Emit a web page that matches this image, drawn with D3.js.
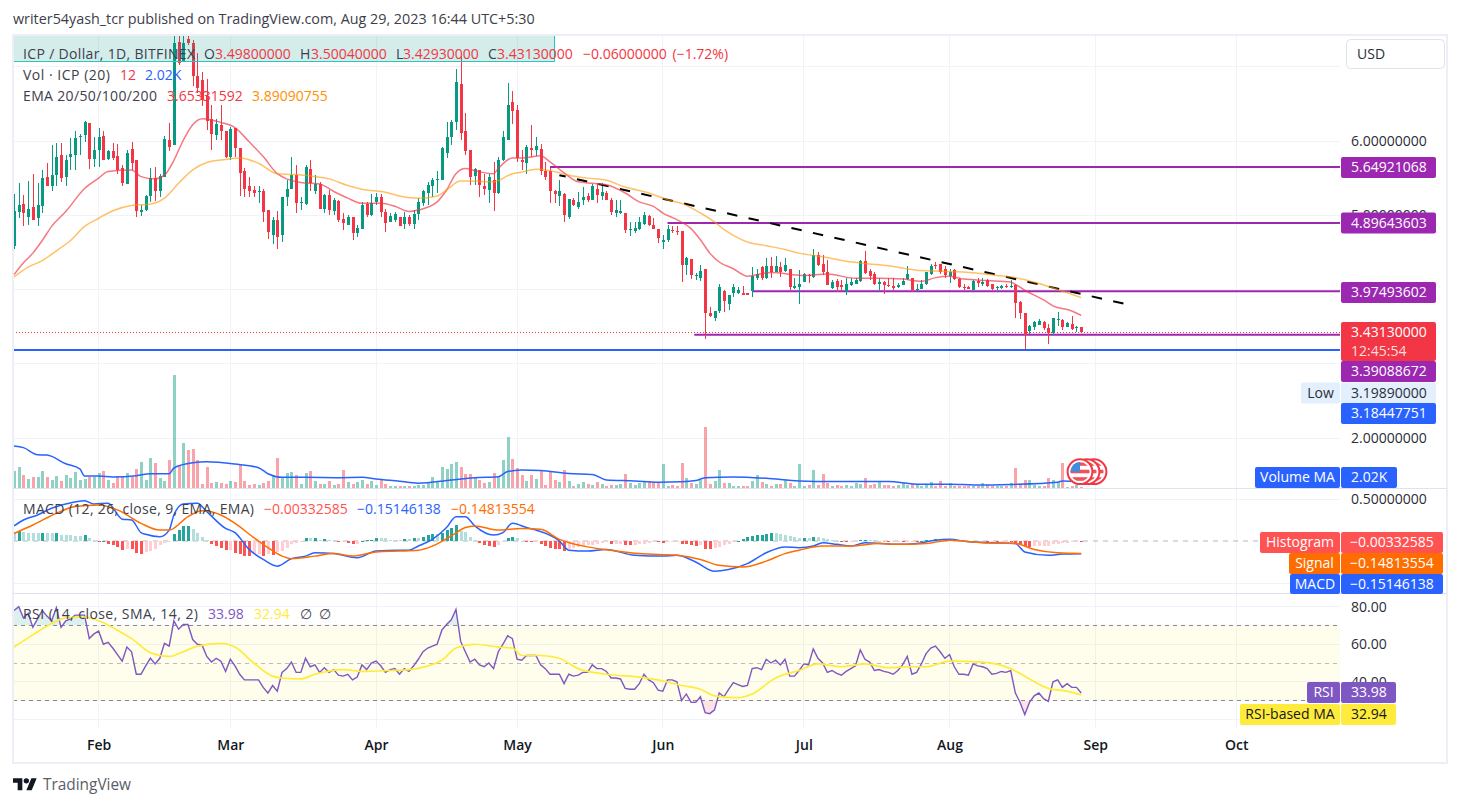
<!DOCTYPE html>
<html>
<head>
<meta charset="utf-8">
<script src="https://cdn.jsdelivr.net/npm/d3@7/dist/d3.min.js"></script>
<style>
html,body{margin:0;padding:0;background:#fff;overflow:hidden}
text{font-family:"Open Sans",sans-serif;font-size:14px}
</style>
</head>
<body>
<div id="canvas"></div>
<script>
// daily candles, index 0 = 14 Jan 2023
var opens=[4.59,5.04,5.15,4.98,5.11,4.96,5.12,5.52,5.40,5.54,5.81,5.51,5.79,5.81,6.06,6.08,6.24,5.76,5.88,6.07,5.76,5.87,5.80,5.64,5.42,5.89,5.74,5.05,5.07,5.26,5.50,5.32,5.52,6.02,5.94,7.33,7.07,7.38,7.32,6.88,6.82,6.60,6.29,6.08,6.22,6.13,5.79,6.18,5.91,5.59,5.39,5.34,5.32,5.33,5.07,4.73,4.94,4.73,5.24,5.35,5.54,5.16,5.15,5.62,5.32,5.42,5.08,5.27,5.06,5.19,4.95,4.87,4.98,4.76,4.82,5.15,5.00,5.18,5.25,5.05,4.91,4.93,4.97,4.88,4.97,4.88,5.02,5.16,5.30,5.39,5.47,5.47,5.84,6.06,6.26,6.77,6.13,5.88,5.53,5.61,5.40,5.34,5.47,5.30,5.74,6.02,6.53,6.42,5.74,5.71,5.91,5.88,5.89,5.60,5.59,5.33,5.26,5.29,4.97,5.21,5.11,5.20,5.26,5.21,5.36,5.26,5.30,5.21,5.03,5.03,5.03,4.80,4.79,4.81,4.88,4.99,4.87,4.82,4.64,4.66,4.80,4.79,4.79,4.33,4.41,4.18,4.15,4.28,3.69,3.61,3.71,3.98,3.80,3.95,3.95,3.95,3.95,3.98,4.15,4.30,4.15,4.32,4.24,4.30,4.25,4.28,4.02,4.04,4.10,4.19,4.17,4.46,4.35,4.24,4.02,4.11,4.06,3.97,4.06,4.08,4.12,4.38,4.25,4.21,4.07,4.10,4.06,4.05,4.04,4.06,4.14,4.16,3.99,4.01,4.07,4.21,4.33,4.34,4.27,4.18,4.26,4.14,4.03,4.04,4.00,4.11,4.08,4.13,4.07,4.02,4.02,4.05,4.03,4.06,3.83,3.68,3.44,3.49,3.52,3.56,3.48,3.41,3.59,3.59,3.50,3.54,3.48,3.498];
var highs=[5.29,5.44,5.27,5.46,5.56,5.44,5.61,5.70,5.95,5.97,5.97,5.81,6.04,6.13,6.10,6.27,6.24,6.06,6.17,6.13,5.88,5.97,5.96,5.68,5.88,5.98,5.74,5.14,5.27,5.63,5.65,5.56,6.07,6.24,7.45,7.45,7.45,7.45,7.36,7.18,6.93,6.84,6.49,6.30,6.49,6.13,6.19,6.18,5.91,5.63,5.52,5.39,5.40,5.36,5.07,4.98,5.06,5.25,5.47,5.79,5.68,5.25,5.68,5.74,5.54,5.45,5.29,5.34,5.23,5.20,5.03,5.00,4.98,4.87,5.18,5.18,5.29,5.30,5.29,5.09,5.03,5.05,4.97,5.05,5.00,5.07,5.23,5.34,5.45,5.50,5.59,5.92,6.26,6.28,6.97,7.14,6.38,5.88,5.63,5.61,5.56,5.56,5.72,5.79,6.13,6.78,6.67,6.49,5.88,5.95,6.22,6.06,5.96,5.72,5.63,5.34,5.47,5.30,5.22,5.23,5.31,5.38,5.30,5.42,5.43,5.43,5.32,5.23,5.21,5.20,5.03,4.91,4.91,4.98,5.05,5.00,4.96,4.82,4.73,4.87,4.85,4.85,4.79,4.44,4.41,4.22,4.33,4.28,3.76,3.71,4.08,3.99,3.93,4.07,4.03,4.05,3.95,4.30,4.27,4.32,4.42,4.44,4.45,4.37,4.42,4.28,4.15,4.26,4.22,4.21,4.54,4.50,4.46,4.40,4.13,4.14,4.13,4.16,4.15,4.16,4.40,4.52,4.28,4.24,4.16,4.11,4.16,4.16,4.09,4.16,4.32,4.16,4.07,4.13,4.24,4.35,4.37,4.35,4.31,4.27,4.27,4.16,4.07,4.05,4.13,4.16,4.16,4.14,4.08,4.05,4.06,4.07,4.13,4.07,3.84,3.69,3.52,3.57,3.60,3.57,3.53,3.62,3.70,3.60,3.56,3.64,3.51,3.5004];
var lows=[4.55,4.96,4.85,4.87,4.93,4.86,5.03,5.39,5.33,5.40,5.45,5.40,5.61,5.61,5.81,5.99,5.62,5.65,5.65,5.74,5.74,5.75,5.56,5.39,5.42,5.61,4.97,4.99,5.06,5.18,5.19,5.25,5.52,5.86,5.94,7.02,7.07,7.29,6.74,6.64,6.47,6.15,5.88,6.01,6.01,5.77,5.74,5.78,5.26,5.24,5.25,5.25,5.17,4.91,4.68,4.61,4.55,4.64,5.12,5.35,5.03,5.07,5.14,5.32,5.29,5.09,5.03,5.00,5.00,4.91,4.80,4.87,4.67,4.71,4.82,4.98,4.99,5.14,4.98,4.78,4.91,4.91,4.85,4.82,4.85,4.82,4.94,5.12,5.14,5.25,5.30,5.47,5.77,5.95,6.15,6.01,5.81,5.41,5.41,5.25,5.27,5.17,5.06,5.29,5.73,6.01,6.23,5.72,5.61,5.56,5.79,5.80,5.54,5.47,5.17,5.17,5.12,4.91,4.95,5.13,5.09,5.14,5.18,5.20,5.16,5.20,5.20,5.00,4.98,5.02,4.76,4.72,4.76,4.80,4.87,4.85,4.82,4.62,4.55,4.64,4.76,4.73,4.10,4.19,4.14,4.13,4.12,3.34,3.63,3.58,3.68,3.70,3.73,3.90,3.94,3.93,3.93,3.90,4.13,4.13,4.14,4.16,4.23,4.17,4.24,3.99,4.01,3.80,4.10,4.09,4.16,4.32,4.20,4.06,4.01,3.97,3.98,3.93,4.05,4.07,4.10,4.21,4.13,4.06,4.00,3.94,4.03,4.00,4.02,4.06,4.13,3.96,3.98,4.01,4.06,4.20,4.27,4.21,4.16,4.09,4.13,4.02,3.99,4.01,3.99,4.03,4.05,4.03,4.00,4.00,4.01,4.02,4.02,3.62,3.60,3.20,3.40,3.45,3.52,3.45,3.27,3.39,3.51,3.46,3.49,3.46,3.43,3.4293];
var closes=[5.06,5.14,5.03,5.09,4.94,5.14,5.50,5.40,5.54,5.79,5.50,5.75,5.83,6.04,6.07,6.25,5.76,5.88,6.05,5.74,5.87,5.77,5.61,5.43,5.84,5.71,5.06,5.07,5.26,5.50,5.33,5.53,6.03,5.92,7.32,7.05,7.32,7.32,6.87,6.72,6.55,6.27,6.09,6.23,6.13,5.78,6.16,5.91,5.57,5.36,5.33,5.30,5.33,5.05,4.77,4.94,4.71,5.25,5.35,5.54,5.16,5.18,5.65,5.44,5.42,5.09,5.27,5.07,5.20,4.94,4.89,4.97,4.76,4.83,5.14,5.00,5.17,5.24,5.05,4.90,4.99,5.02,4.86,4.97,4.88,5.02,5.18,5.32,5.41,5.47,5.49,5.90,6.06,6.26,6.80,6.11,5.87,5.52,5.62,5.41,5.36,5.51,5.30,5.74,6.05,6.49,6.40,5.77,5.72,5.92,5.88,5.93,5.60,5.52,5.33,5.29,5.32,5.00,5.22,5.14,5.18,5.25,5.20,5.39,5.27,5.31,5.20,5.05,5.07,5.06,4.80,4.81,4.83,4.91,5.00,4.87,4.82,4.69,4.67,4.82,4.79,4.78,4.33,4.43,4.20,4.20,4.25,3.68,3.64,3.71,4.04,3.84,3.93,4.03,4.00,3.93,3.93,4.18,4.21,4.16,4.32,4.24,4.31,4.23,4.33,4.04,4.05,4.08,4.21,4.18,4.46,4.33,4.24,4.06,4.10,4.04,4.03,4.07,4.10,4.13,4.39,4.22,4.18,4.07,4.10,4.06,4.05,4.02,4.06,4.11,4.21,3.99,4.01,4.08,4.23,4.32,4.32,4.24,4.20,4.24,4.14,4.03,4.02,4.01,4.11,4.09,4.10,4.05,4.01,4.04,4.05,4.03,4.05,3.82,3.68,3.39,3.51,3.56,3.58,3.48,3.41,3.61,3.60,3.50,3.55,3.47,3.50,3.4313];
// volume in thousands, same days
var volumes=[5.4,6.6,4.1,2.9,3.5,3.5,5.4,3.5,2.6,3.8,2.3,4.1,3.2,5.0,2.6,2.9,3.5,3.5,4.7,5.4,2.6,1.6,3.8,3.8,4.7,3.5,6.0,8.1,2.6,9.4,7.8,3.2,2.3,8.8,35,7.2,14,11.7,12.2,8.8,1.3,6.6,1.6,2.0,1.6,1.3,2.3,2.0,7.2,2.3,0.9,1.3,1.0,1.6,2.3,4.1,9.4,3.5,4.7,5.0,4.1,1.3,4.7,5.4,2.3,1.3,1.3,2.3,1.0,1.3,5.7,2.0,1.3,2.0,2.6,1.3,2.3,1.0,2.6,1.3,0.7,0.7,0.7,0.6,0.6,0.6,0.9,0.9,1.5,3.4,1.9,6.5,5.9,7.4,8.0,6.5,4.3,4.3,3.3,2.5,1.6,1.9,4.6,3.7,8.7,15.8,9.0,6.2,4.0,2.2,4.0,2.8,5.3,0.9,5.3,2.5,1.9,5.6,2.2,0.6,1.2,1.9,1.2,0.9,1.9,1.2,0.6,0.9,0.9,1.2,4.3,1.5,0.9,1.5,1.9,2.2,1.9,1.5,7.4,0.6,0.9,0.6,7.7,3.1,1.5,1.2,2.5,18.9,1.2,2.2,5.6,1.5,1.5,0.6,0.6,0.6,0.6,2.2,4.0,1.9,1.2,0.6,1.2,1.2,2.5,1.5,0.6,7.4,0.6,0.9,5.6,0.9,4.3,1.5,0.6,0.9,0.6,0.9,0.6,1.7,1.3,3.1,0.9,1.2,1.9,0.9,0.9,0.6,0.9,1.5,0.9,1.2,0.9,0.6,1.2,1.9,0.6,2.2,0.6,1.5,0.6,0.6,0.6,0.6,0.6,0.6,1.4,0.9,0.6,0.6,0.6,0.6,1.4,6.2,1.2,2.5,2.5,0.9,0.6,0.6,3.1,2.5,1.9,7.7,0.3,0.6,0.9,0.3];
var volMaDays=[0,2,5,7,11,14,15,18,21,26,29,33,34,38,41,47,52,54,57,62,69,74,77,82,86,93,98,103,105,108,112,118,123,126,132,137,142,145,147,153,160,167,174,186,192,199,205,212,222,223,227];
var volMa=[13,12.5,10.3,10.2,7.5,5.9,3.7,3.7,3.4,3.8,4.4,4.4,6.2,7.8,8.1,7.4,6.3,4.4,3.3,3.3,3.2,3.3,2.8,2.1,1.5,2.5,3.2,3.5,5.1,5.6,5.4,4.5,4.2,2.5,2.2,1.8,1.9,2.3,3.2,3.4,3.0,2.2,2.0,2.0,1.2,1.2,0.9,1.1,1.8,2.2,2.02];
var ema20Days=[0,2,4,6,8,11,15,18,20,25,27,30,32,34,36,38,40,44,47,50,53,56,58,61,65,68,71,74,78,81,84,86,90,92,94,96,98,102,103,106,108,112,114,117,120,123,126,130,133,136,138,141,144,146,148,150,153,156,161,168,173,179,184,189,193,196,199,202,207,212,213,215,219,221,225,227];
var ema20=[4.20,4.36,4.49,4.66,4.85,5.05,5.36,5.50,5.59,5.61,5.52,5.49,5.54,5.74,6.01,6.22,6.30,6.25,6.18,5.99,5.79,5.56,5.49,5.44,5.42,5.32,5.23,5.16,5.16,5.12,5.05,5.07,5.18,5.34,5.56,5.63,5.60,5.56,5.63,5.77,5.77,5.80,5.72,5.57,5.45,5.43,5.41,5.30,5.18,5.12,5.03,4.94,4.82,4.67,4.49,4.37,4.28,4.18,4.23,4.19,4.21,4.15,4.15,4.14,4.11,4.16,4.18,4.14,4.12,4.10,4.07,3.99,3.86,3.78,3.71,3.65];
var ema50Days=[0,3,6,9,12,15,18,21,25,29,32,35,38,41,45,48,52,56,59,63,67,71,74,79,82,86,90,92,95,97,102,106,108,111,114,118,122,126,130,135,139,142,146,149,151,153,156,160,164,167,172,177,181,186,192,196,200,205,209,213,218,222,227];
var ema50=[4.17,4.30,4.39,4.52,4.66,4.85,4.96,5.06,5.13,5.15,5.23,5.43,5.61,5.71,5.75,5.77,5.70,5.56,5.55,5.53,5.49,5.40,5.35,5.31,5.26,5.23,5.26,5.34,5.46,5.46,5.45,5.56,5.58,5.62,5.60,5.54,5.50,5.47,5.38,5.30,5.21,5.16,5.03,4.91,4.81,4.73,4.64,4.59,4.54,4.49,4.44,4.38,4.35,4.32,4.26,4.25,4.24,4.22,4.19,4.16,4.08,4.00,3.89];
// drawings on the price pane
var hLevels=[5.64921068,4.89643603,3.97493602,3.39088672];
var hLevelDays=[114,139,157,144.7];
var supportLevel=3.18447751;
var lastPrice=3.4313;
var trendDays=[116,236];
var trendPrices=[5.54,3.81];
// MACD pane
var macdDays=[0,2,5,8,11,15,17,20,23,25,27,28,31,33,34,36,39,41,45,47,50,53,56,59,62,64,68,73,77,82,84,86,89,92,94,96,98,102,104,106,109,111,116,118,122,126,132,138,141,145,149,152,156,160,164,167,170,172,175,178,181,188,192,196,199,203,213,215,220,223,227];
var macdLine=[0.18,0.25,0.31,0.39,0.44,0.48,0.44,0.45,0.26,0.25,0.10,0.08,0.05,0.13,0.31,0.44,0.45,0.35,0.15,0.10,-0.10,-0.22,-0.30,-0.21,-0.18,-0.14,-0.15,-0.20,-0.12,-0.11,-0.11,-0.06,0.02,0.16,0.29,0.29,0.18,0.07,0.10,0.21,0.16,0.13,0,-0.11,-0.12,-0.10,-0.17,-0.18,-0.17,-0.25,-0.36,-0.34,-0.27,-0.14,-0.07,-0.08,-0.06,-0.02,-0.04,-0.06,-0.02,-0.04,-0.03,0.01,0.02,-0.01,-0.03,-0.13,-0.17,-0.155,-0.151];
var signalDays=[0,4,9,13,18,22,27,31,33,37,40,44,47,51,54,57,59,64,68,72,77,82,86,89,93,96,98,103,108,112,116,122,127,133,141,146,150,155,160,164,167,172,178,184,188,194,199,206,213,217,222,227];
var signalLine=[0.09,0.19,0.33,0.41,0.43,0.37,0.21,0.13,0.13,0.29,0.36,0.31,0.21,0.04,-0.08,-0.18,-0.21,-0.18,-0.15,-0.18,-0.13,-0.12,-0.11,-0.06,0.06,0.16,0.18,0.13,0.15,0.14,0.02,-0.07,-0.11,-0.15,-0.17,-0.22,-0.29,-0.31,-0.24,-0.15,-0.11,-0.06,-0.06,-0.03,-0.04,-0.03,0.01,-0.02,-0.03,-0.10,-0.14,-0.148];
var histogram=[0.11,0.12,0.11,0.10,0.095,0.09,0.10,0.09,0.09,0.10,0.075,0.075,0.07,0.065,0.065,0.07,0.03,0.005,-0.005,0,-0.03,-0.045,-0.07,-0.11,-0.09,-0.10,-0.14,-0.15,-0.13,-0.115,-0.10,-0.05,-0.02,-0.005,0.085,0.135,0.175,0.18,0.145,0.095,0.045,0.01,-0.03,-0.06,-0.085,-0.11,-0.11,-0.14,-0.16,-0.175,-0.18,-0.16,-0.15,-0.18,-0.16,-0.17,-0.13,-0.115,-0.085,-0.03,-0.025,-0.01,0.03,0.03,0.035,0.01,0.02,0.01,0.01,-0.01,-0.01,-0.02,-0.03,-0.03,0.005,0.01,0.012,0.035,0.035,0.03,0.015,0.01,0.01,0.02,0.02,0.03,0.03,0.05,0.07,0.08,0.08,0.10,0.13,0.16,0.185,0.12,0.11,0.05,0.015,-0.025,-0.05,-0.06,-0.07,-0.045,-0.01,0.03,0.05,0.03,0,-0.01,-0.015,-0.015,-0.035,-0.06,-0.08,-0.095,-0.10,-0.12,-0.09,-0.08,-0.07,-0.06,-0.05,-0.045,-0.03,-0.02,-0.01,-0.03,-0.03,-0.03,-0.045,-0.05,-0.045,-0.035,-0.03,-0.02,-0.01,-0.012,-0.025,-0.012,-0.01,-0.008,-0.03,-0.035,-0.05,-0.065,-0.05,-0.095,-0.10,-0.08,-0.07,-0.05,-0.03,-0.012,0.004,0.02,0.045,0.06,0.07,0.075,0.085,0.09,0.09,0.085,0.07,0.06,0.045,0.035,0.04,0.035,0.05,0.05,0.04,0.025,0.012,0.004,-0.004,-0.015,-0.004,-0.004,0.012,0.015,0.012,0.008,0,0,-0.015,-0.015,-0.004,-0.008,-0.008,-0.004,-0.015,0,0.015,0.012,0.028,0.024,0.02,0.015,0.008,0.004,-0.004,-0.008,-0.008,-0.008,-0.004,-0.008,-0.006,-0.015,-0.008,-0.004,-0.006,-0.03,-0.04,-0.055,-0.07,-0.065,-0.062,-0.06,-0.058,-0.04,-0.03,-0.025,-0.02,-0.012,-0.01,-0.015];
// RSI pane
var rsi=[78,80,74,76.5,69,73.5,78,75,72.5,79.5,69,72.5,73.5,75.5,75.5,75.5,63,65.5,67,60,61,58,54.5,51,58.5,56,44,44,48.5,52.5,49.5,52.5,60.5,59,72.5,68,70.5,70.5,62.5,60,59.5,53.5,50.5,52.5,51,45.5,52,48.5,44,41,41,41,41,37,34,38,35,45,47,50.5,45,45,52.5,48,49,45,47.5,45,46.5,43.5,43,44,41,42.5,49,46.5,50,51,48.5,45,46.5,47,44,47,45.5,48.5,52,56,58,59,60,67.5,70.5,73,78.5,61.5,56,50.5,52,49,48,50,47,56,60,64.5,63,52,51.5,54,54,54,49,47,44,44,44,39,44,43,43.5,45,45,49,47,47,45.5,42,42,41.5,36.5,36,36,39,44,41,39.5,35.5,35,41,41,40,30,33.5,29,29,32,23.5,23,25,34,32,36,39.5,38.5,37.5,38,47,47.5,46.5,52,50,51.5,49,52,43,43,46,49.5,49,57.5,52.5,50,45,46,44.5,43.5,45.5,47,48.5,57,52,50.5,46,46.5,45.5,45,44,46,49,53.5,44,45,49.5,55,58,59,56,52.5,54.5,48,44,44,43.5,49.5,48.5,48,47,44,44.5,45.5,45,46,34,29,22.5,29,32.5,34,31,29.5,40,41,37,39,37,37,33.98];
var rsiMaDays=[0,4,8,11,15,18,23,25,29,33,36,39,44,47,51,55,57,61,64,70,74,80,84,91,94,98,103,106,108,112,116,120,126,133,137,142,146,149,154,157,162,167,171,176,181,186,191,194,199,206,212,216,220,224,227];
var rsiMa=[58.5,65,71,74,74.5,72.5,66,63,55.5,53.5,56,59,60.5,58.5,50,43,42,41.5,44,46.5,45.5,46,46.5,51.5,58,60,58.5,58,54,54,52.5,47,44,42.5,41,38,36,32.5,31.5,33.5,42,46,49.5,48,49.5,47.5,48,48,51,50.5,47,41.5,36.5,35,32.94];
var monthLabels=["Feb","Mar","Apr","May","Jun","Jul","Aug","Sep","Oct"];

var W=1461,H=807;
var plotL=13,plotR=1340,frameR=1447;
var mainTop=35,mainBot=488,macdBot=593,rsiBot=728,frameBot=763;
var startMs=Date.UTC(2023,0,14);
function dayDate(i){return new Date(startMs+i*864e5);}

var svg=d3.select("#canvas").append("svg").attr("width",W).attr("height",H);
var defs=svg.append("defs");
function addClip(id,y0,y1){
    defs.append("clipPath").attr("id",id).append("rect")
        .attr("x",plotL).attr("y",y0).attr("width",plotR-plotL).attr("height",y1-y0);
}
addClip("clipMain",mainTop,mainBot);
addClip("clipMacd",mainBot,macdBot);
addClip("clipRsi",macdBot,rsiBot);

var x=d3.scaleUtc().domain([dayDate(0),new Date(Date.UTC(2023,8,1))]).range([14.05,1095.3]);
var y=d3.scaleLinear().domain([6,2]).range([141,438]);
var yVol=d3.scaleLinear().domain([0,35]).range([mainBot,375]);
var yMacd=d3.scaleLinear().domain([0.5,-0.5]).range([499,583]);
var yRsi=d3.scaleLinear().domain([80,20]).range([606.7,719.3]);
function xd(i){return x(dayDate(i));}

var GREEN="#089981",RED="#f23645",PURPLE="#9c27b0",BLUE="#2962ff",ORANGE="#ff6d00";
var INK="#2a2e39",GRID="#f0f3fa",EDGE="#e0e3eb";

// --- grid ---
var months=d3.utcMonths(new Date(Date.UTC(2023,1,1)),new Date(Date.UTC(2023,9,2)));
var grid=svg.append("g").attr("shape-rendering","crispEdges");
grid.selectAll("line.v").data(months).enter().append("line")
    .attr("x1",function(d){return x(d);}).attr("x2",function(d){return x(d);})
    .attr("y1",mainTop).attr("y2",rsiBot).attr("stroke",GRID);
function hGrid(vals,scale){
    grid.selectAll(null).data(vals).enter().append("line")
        .attr("x1",plotL).attr("x2",plotR)
        .attr("y1",function(d){return scale(d);}).attr("y2",function(d){return scale(d);})
        .attr("stroke",GRID);
}
hGrid([7,6,5,4,3,2],y);
hGrid([0.5,-0.5],yMacd);
hGrid([80,60,40,20],yRsi);

// --- volume ---
var volG=svg.append("g").attr("clip-path","url(#clipMain)").attr("shape-rendering","crispEdges");
volG.selectAll("rect").data(volumes).enter().append("rect")
    .attr("x",function(d,i){return Math.round(xd(i))-1;})
    .attr("width",3)
    .attr("y",function(d){return yVol(d);})
    .attr("height",function(d){return mainBot-yVol(d);})
    .attr("fill",function(d,i){return closes[i]>=opens[i]?GREEN:RED;})
    .attr("fill-opacity",0.45);

function seriesLine(g,days,vals,scale,color,width,opacity){
    var line=d3.line().x(function(d){return xd(d[0]);}).y(function(d){return scale(d[1]);})
        .curve(d3.curveMonotoneX);
    g.append("path").datum(d3.zip(days,vals)).attr("d",line)
        .attr("fill","none").attr("stroke",color).attr("stroke-width",width)
        .attr("stroke-opacity",opacity===undefined?1:opacity);
}
var mainG=svg.append("g").attr("clip-path","url(#clipMain)");
seriesLine(mainG,volMaDays,volMa,yVol,BLUE,1.5);

// --- horizontal levels ---
mainG.append("line").attr("x1",plotL).attr("x2",plotR)
    .attr("y1",y(lastPrice)+1).attr("y2",y(lastPrice)+1)
    .attr("stroke",RED).attr("stroke-dasharray","1 2").attr("stroke-width",1)
    .attr("shape-rendering","crispEdges");
hLevels.forEach(function(v,k){
    mainG.append("line").attr("x1",xd(hLevelDays[k])).attr("x2",plotR)
        .attr("y1",y(v)).attr("y2",y(v))
        .attr("stroke",PURPLE).attr("stroke-width",2);
});
mainG.append("line").attr("x1",plotL).attr("x2",plotR)
    .attr("y1",y(supportLevel)).attr("y2",y(supportLevel))
    .attr("stroke",BLUE).attr("stroke-width",2);

// --- candles ---
var candleG=mainG.append("g").attr("shape-rendering","crispEdges");
candleG.selectAll("line").data(closes).enter().append("line")
    .attr("x1",function(d,i){return Math.round(xd(i))+0.5;})
    .attr("x2",function(d,i){return Math.round(xd(i))+0.5;})
    .attr("y1",function(d,i){return y(highs[i]);})
    .attr("y2",function(d,i){return y(lows[i]);})
    .attr("stroke",function(d,i){return d>=opens[i]?GREEN:RED;});
candleG.selectAll("rect").data(closes).enter().append("rect")
    .attr("x",function(d,i){return Math.round(xd(i))-1;})
    .attr("width",3)
    .attr("y",function(d,i){return y(Math.max(d,opens[i]));})
    .attr("height",function(d,i){return Math.max(1,Math.abs(y(d)-y(opens[i])));})
    .attr("fill",function(d,i){return d>=opens[i]?GREEN:RED;});

// --- trend line and EMAs ---
mainG.append("line")
    .attr("x1",xd(trendDays[0])).attr("y1",y(trendPrices[0]))
    .attr("x2",xd(trendDays[1])).attr("y2",y(trendPrices[1]))
    .attr("stroke","#000").attr("stroke-width",2)
    .attr("stroke-dasharray","10.5 11.5").attr("stroke-dashoffset",4);
seriesLine(mainG,ema20Days,ema20,y,RED,1.5,0.68);
seriesLine(mainG,ema50Days,ema50,y,"#ff9800",1.5,0.6);

// teal rectangle drawing behind the legend
svg.append("rect").attr("x",plotL).attr("y",mainTop-1).attr("width",555-plotL).attr("height",27)
    .attr("fill","#009688").attr("fill-opacity",0.17);
svg.append("path").attr("d","M13 61.5H554.5V34").attr("fill","none").attr("stroke","#26c6c6").attr("stroke-width",1);

// --- MACD ---
var macdG=svg.append("g").attr("clip-path","url(#clipMacd)");
macdG.append("line").attr("x1",plotL).attr("x2",plotR)
    .attr("y1",yMacd(0)).attr("y2",yMacd(0))
    .attr("stroke","#787b86").attr("stroke-opacity",0.55).attr("stroke-dasharray","5 5");
function histColor(d,i){
    var prev=i>0?histogram[i-1]:d;
    if(d>=0) return d>prev?"#26a69a":"#b2dfdb";
    return d<prev?"#ff5252":"#ffcdd2";
}
macdG.append("g").attr("shape-rendering","crispEdges").selectAll("rect").data(histogram).enter().append("rect")
    .attr("x",function(d,i){return Math.round(xd(i))-1;})
    .attr("width",3)
    .attr("y",function(d){return Math.min(yMacd(d),yMacd(0));})
    .attr("height",function(d){return Math.max(1,Math.abs(yMacd(d)-yMacd(0)));})
    .attr("fill",histColor);
seriesLine(macdG,macdDays,macdLine,yMacd,BLUE,1.5);
seriesLine(macdG,signalDays,signalLine,yMacd,ORANGE,1.5);

// --- RSI ---
var rsiG=svg.append("g").attr("clip-path","url(#clipRsi)");
rsiG.append("rect").attr("x",plotL).attr("width",plotR-plotL)
    .attr("y",yRsi(70)).attr("height",yRsi(30)-yRsi(70))
    .attr("fill","#ffeb3b").attr("fill-opacity",0.1);
defs.append("clipPath").attr("id","aboveBand").append("rect")
    .attr("x",plotL).attr("y",macdBot).attr("width",plotR-plotL).attr("height",yRsi(70)-macdBot);
defs.append("clipPath").attr("id","belowBand").append("rect")
    .attr("x",plotL).attr("y",yRsi(30)).attr("width",plotR-plotL).attr("height",rsiBot-yRsi(30));
function rsiArea(level,clip,color){
    rsiG.append("g").attr("clip-path","url(#"+clip+")").append("path").datum(rsi)
        .attr("d",d3.area().x(function(d,i){return xd(i);}).y0(yRsi(level)).y1(function(d){return yRsi(d);}))
        .attr("fill",color).attr("fill-opacity",0.14);
}
rsiArea(70,"aboveBand",GREEN);
rsiArea(30,"belowBand",RED);
[[70,0.9],[50,0.5],[30,0.9]].forEach(function(l){
    rsiG.append("line").attr("x1",plotL).attr("x2",plotR)
        .attr("y1",yRsi(l[0])).attr("y2",yRsi(l[0]))
        .attr("stroke","#787b86").attr("stroke-opacity",l[1]).attr("stroke-dasharray","4 4")
        .attr("shape-rendering","crispEdges");
});
var rsiPath=d3.line().x(function(d,i){return xd(i);}).y(function(d){return yRsi(d);});
rsiG.append("path").datum(rsi).attr("d",rsiPath).attr("fill","none").attr("stroke","#7e57c2").attr("stroke-width",1.4);
seriesLine(rsiG,rsiMaDays,rsiMa,yRsi,"#ffeb3b",1.7);

// --- frame and pane separators ---
var frame=svg.append("g").attr("shape-rendering","crispEdges");
frame.append("rect").attr("x",12.5).attr("y",34.5).attr("width",frameR-12.5).attr("height",frameBot-34.5)
    .attr("fill","none").attr("stroke","#eeeef6").attr("stroke-width",2);
[mainBot,macdBot].forEach(function(v){
    frame.append("line").attr("x1",plotL).attr("x2",frameR).attr("y1",v+0.5).attr("y2",v+0.5).attr("stroke",EDGE);
});

// --- axes ---
function cleanAxis(g){
    g.select(".domain").remove();
    g.selectAll("text").attr("font-size",14).attr("font-family","'Open Sans',sans-serif").attr("fill",INK);
}
svg.append("g").attr("transform","translate(1351,0)")
    .call(d3.axisRight(y).tickValues([6,5,2]).tickSize(0).tickPadding(0).tickFormat(d3.format(".8f"))).call(cleanAxis);
svg.append("g").attr("transform","translate(1351,0)")
    .call(d3.axisRight(yMacd).tickValues([0.5]).tickSize(0).tickPadding(0).tickFormat(d3.format(".8f"))).call(cleanAxis);
svg.append("g").attr("transform","translate(1351,0)")
    .call(d3.axisRight(yRsi).tickValues([80,60,40]).tickSize(0).tickPadding(0).tickFormat(d3.format(".2f"))).call(cleanAxis);
var xAxis=svg.append("g").attr("transform","translate(0,"+rsiBot+")")
    .call(d3.axisBottom(x).tickValues(months).tickSize(0).tickPadding(12)
        .tickFormat(function(d,i){return monthLabels[i];})).call(cleanAxis);
xAxis.selectAll("text").attr("font-weight",600).attr("fill","#131722");

// --- flags on the volume base ---
function flag(cx){
    var cy=471.7,g=svg.append("g");
    var id="flag"+Math.round(cx);
    defs.append("clipPath").attr("id",id).append("circle").attr("cx",cx).attr("cy",cy).attr("r",9.6);
    g.append("circle").attr("cx",cx).attr("cy",cy).attr("r",12.4).attr("fill","#fff").attr("stroke",RED).attr("stroke-width",2);
    var inner=g.append("g").attr("clip-path","url(#"+id+")");
    inner.append("rect").attr("x",cx-10).attr("y",cy-10).attr("width",20).attr("height",20).attr("fill","#fff");
    [-9.5,-2,5.5].forEach(function(o){
        inner.append("rect").attr("x",cx-10).attr("y",cy+o).attr("width",20).attr("height",3.6).attr("fill","#f0525c");
    });
    inner.append("rect").attr("x",cx-10).attr("y",cy-10).attr("width",10).attr("height",10).attr("fill","#3d8ee0");
}
[1094,1087,1080].forEach(flag);

// --- price tags ---
function tag(x0,x1,yc,h,fill,txt,color,tx,anchor){
    svg.append("rect").attr("x",x0).attr("y",yc-h/2).attr("width",x1-x0).attr("height",h).attr("rx",2).attr("fill",fill);
    svg.append("text").attr("x",tx).attr("y",yc).attr("dy","0.35em").attr("fill",color)
        .attr("text-anchor",anchor||"start").text(txt);
}
var axisL=1341;
tag(axisL,1436,167.5,21,PURPLE,"5.64921068","#fff",1351);
tag(axisL,1436,223,21,PURPLE,"4.89643603","#fff",1351);
tag(axisL,1436,292.5,21,PURPLE,"3.97493602","#fff",1351);
svg.append("rect").attr("x",axisL).attr("y",322).attr("width",95).attr("height",39).attr("rx",2).attr("fill",RED);
svg.append("text").attr("x",1351).attr("y",332).attr("dy","0.35em").attr("fill","#fff").text("3.43130000");
svg.append("text").attr("x",1351).attr("y",351).attr("dy","0.35em").attr("fill","#fff").attr("fill-opacity",0.85).text("12:45:54");
tag(axisL,1436,371.5,21,PURPLE,"3.39088672","#fff",1351);
tag(1301,1340,393,21,"#e3effd","Low",INK,1320.5,"middle");
tag(axisL,1436,393,21,"#e3effd","3.19890000",INK,1351);
tag(axisL,1436,413.5,21,BLUE,"3.18447751","#fff",1351);
tag(1255,1340,477.5,21,BLUE,"Volume MA","#fff",1297.5,"middle");
tag(axisL,1397,477.5,21,BLUE,"2.02K","#fff",1351);

tag(1260,1340,542.5,21,"#ff5252","Histogram","#fff",1300,"middle");
tag(axisL,1443,542.5,21,"#ff5252","\u22120.00332585","#fff",1350);
tag(1289,1340,563.5,21,ORANGE,"Signal","#fff",1314.5,"middle");
tag(axisL,1443,563.5,21,ORANGE,"\u22120.14813554","#fff",1350);
tag(1290,1340,584,20,BLUE,"MACD","#fff",1315,"middle");
tag(axisL,1443,584,20,BLUE,"\u22120.15146138","#fff",1350);
tag(1307,1340,692.5,21,"#7e57c2","RSI","#fff",1323.5,"middle");
tag(axisL,1396,692.5,21,"#7e57c2","33.98","#fff",1351);
tag(1240,1340,714.5,21,"#ffeb3b","RSI-based MA","#131722",1290,"middle");
tag(axisL,1396,714.5,21,"#ffeb3b","32.94","#131722",1351);

// USD button
svg.append("rect").attr("x",1346.5).attr("y",39.5).attr("width",98).attr("height",29).attr("rx",4)
    .attr("fill","#fff").attr("stroke",EDGE);
svg.append("text").attr("x",1357).attr("y",54).attr("dy","0.35em").attr("fill",INK).text("USD");

// --- legends --- parts are [x, text, colour, width of the text in the reference]
function legend(yc,parts){
    parts.forEach(function(p){
        var t=svg.append("text").attr("x",p[0]).attr("y",yc).attr("dy","0.35em").attr("fill",p[2]).text(p[1]);
        if(p[3]) t.attr("textLength",p[3]).attr("lengthAdjust","spacing");
    });
}
var LEG="#3c404b";
legend(54,[[23,"ICP / Dollar, 1D, BITFINEX",LEG,172],[204,"O",LEG],[215,"3.49800000",RED],[300,"H",LEG],[311,"3.50040000",RED],
    [396,"L",LEG],[403,"3.42930000",RED],[488,"C",LEG],[497,"3.43130000",RED],[583,"\u22120.06000000",RED],[672.5,"(\u22121.72%)",RED]]);
legend(75,[[23,"Vol \u00b7 ICP (20)",LEG,87],[120,"12",RED],[145,"2.02K",BLUE]]);
legend(96,[[23,"EMA 20/50/100/200",LEG,134],[167,"3.65331592",RED],[252,"3.89090755","#ff9000"]]);
legend(509,[[23,"MACD (12, 26, close, 9, EMA, EMA)",LEG,231],[264,"\u22120.00332585","#ff5252"],[357,"\u22120.15146138",BLUE],[451,"\u22120.14813554",ORANGE]]);
legend(614,[[23,"RSI (14, close, SMA, 14, 2)",LEG,175],[208,"33.98","#7e57c2"],[254,"32.94","#ffeb3b"],[300,"\u2205",LEG],[319,"\u2205",LEG]]);

// header and footer
svg.append("text").attr("x",13).attr("y",19).attr("dy","0.35em").attr("fill","#3c404b").style("font-size","14.35px")
    .text("writer54yash_tcr published on TradingView.com, Aug 29, 2023 16:44 UTC+5:30");
svg.append("g").attr("transform","translate(13,775.5) scale(0.667)").call(function(g){
    g.append("path").attr("d","M14 22H7V11H0V4h14v18zM28 22h-8l7.5-18h8L28 22z").attr("fill","#131722");
    g.append("circle").attr("cx",20).attr("cy",8).attr("r",4).attr("fill","#131722");
});
svg.append("text").attr("x",43).attr("y",785).attr("dy","0.35em").attr("fill","#5a5e69").style("font-size","15.4px").text("TradingView");
</script>
</body>
</html>
